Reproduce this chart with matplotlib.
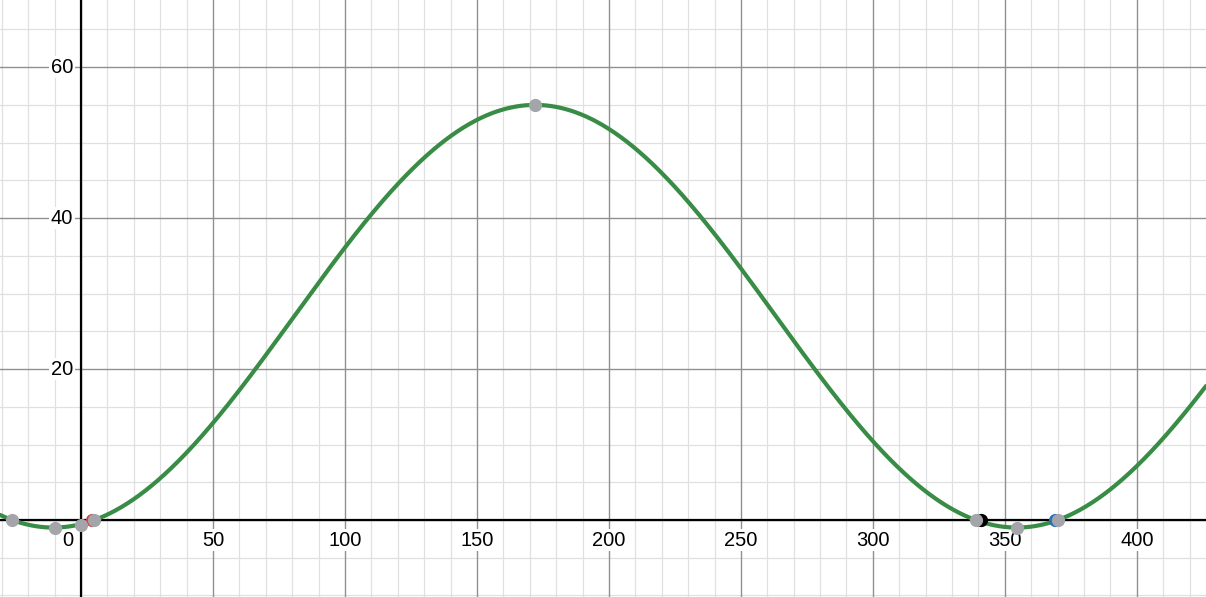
import numpy as np
import matplotlib.pyplot as plt

plt.rcParams['font.family'] = ['Liberation Sans', 'DejaVu Sans']

# curve: yearly cosine (peak day, period, amplitude, midline)
peak_day = 172
period = 365
amplitude = 28.0
midline = 27.0

# marked points
gray_x = [-26, -10, 0, 5, 172, 339, 354.5, 370]
gray_y = [0, -1.05, -0.6, 0, 55, 0, -1.05, 0]
red_pt = (4, 0)
black_pt = (341, 0)
blue_pt = (369, 0)

xlim = (-30.7, 426.2)
ylim = (-10.2, 68.9)
x_labels = [0, 50, 100, 150, 200, 250, 300, 350, 400]
y_labels = [20, 40, 60]

fig = plt.figure(figsize=(12.06, 5.97), dpi=100)
ax = fig.add_axes([0, 0, 1, 1])
ax.set_xlim(xlim)
ax.set_ylim(ylim)
ax.axis('off')

# grid
for gx in np.arange(-30, 430, 10):
    major = gx % 50 == 0
    ax.axvline(gx, color='#909090' if major else '#e0e0e0', lw=1.0 if major else 0.9, zorder=1 if major else 0)
for gy in np.arange(-10, 70, 5):
    major = gy % 20 == 0
    ax.axhline(gy, color='#909090' if major else '#e0e0e0', lw=1.0 if major else 0.9, zorder=1 if major else 0)
ax.axhline(0, color='black', lw=1.6, zorder=2)
ax.axvline(0, color='black', lw=1.6, zorder=2)

xs = np.linspace(xlim[0], xlim[1], 1200)
ys = amplitude * np.cos(2 * np.pi * (xs - peak_day) / period) + midline
ax.plot(xs, ys, color='#388c46', lw=3.0, zorder=4, solid_capstyle='round')

ax.plot(*red_pt, 'o', color='#c74440', ms=8.5, zorder=5)
ax.plot(*black_pt, 'o', color='black', ms=8.5, zorder=5)
ax.plot(*blue_pt, 'o', color='#2d70b3', ms=8.5, zorder=5)
ax.plot(gray_x, gray_y, 'o', color='#a4a4ab', ms=8.5, zorder=6, lw=0)

fs = 14.5
box = dict(facecolor='white', edgecolor='none', pad=1.0)
for v in x_labels:
    if v == 0:
        ax.text(-3.0, -1.4, '0', ha='right', va='top', fontsize=fs, zorder=3, bbox=box)
    else:
        ax.text(v, -1.4, str(v), ha='center', va='top', fontsize=fs, zorder=3, bbox=box)
for v in y_labels:
    ax.text(-3.0, v, str(v), ha='right', va='center', fontsize=fs, zorder=3, bbox=box)

fig.savefig('out.png', dpi=100)
